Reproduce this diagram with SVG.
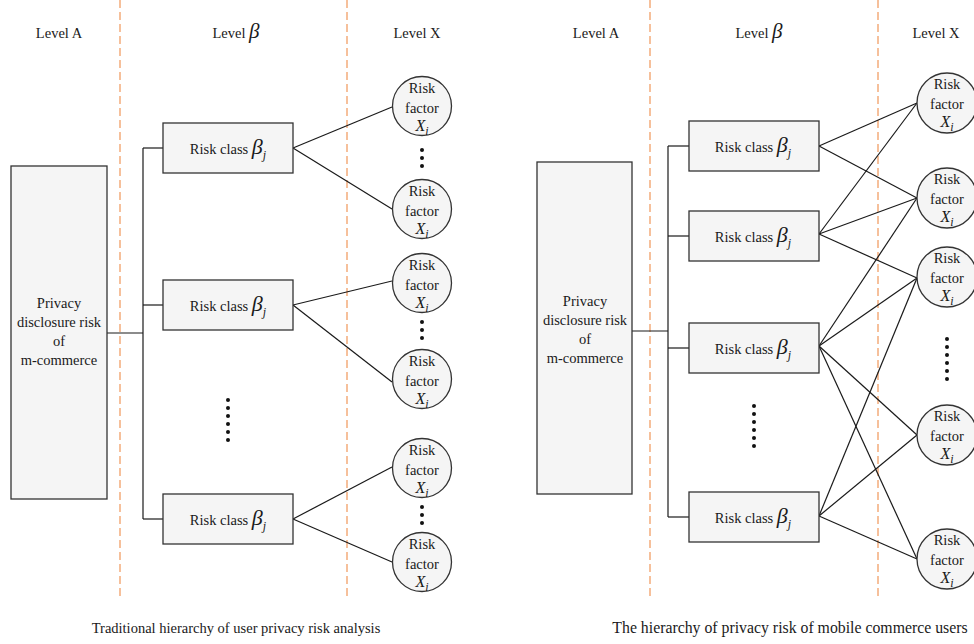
<svg xmlns="http://www.w3.org/2000/svg" width="974" height="644" viewBox="0 0 974 644">
<style>
text{font-family:"Liberation Serif","DejaVu Serif",serif;fill:#1a1a1a;font-size:14.5px;}
.lbl{text-anchor:middle;}
.it{font-style:italic;}
.beta{font-style:italic;font-size:22px;}
.sub{font-style:italic;font-size:12px;}
.cap2{font-size:15.8px;}
.guide{stroke:#F4B183;stroke-width:1.6;stroke-dasharray:8 4;fill:none;}
.box{fill:#f5f5f5;stroke:#333;stroke-width:1.3;}
.circ{fill:#f5f5f5;stroke:#333;stroke-width:1.3;}
.ln{stroke:#1a1a1a;stroke-width:1.2;fill:none;}
.dot{fill:#111;}
</style>
<defs>
<g id="dots3"><circle cx="0" cy="0" r="2" class="dot"/><circle cx="0" cy="8" r="2" class="dot"/><circle cx="0" cy="16" r="2" class="dot"/></g>
<g id="dots6"><circle cx="0" cy="0" r="2" class="dot"/><circle cx="0" cy="8" r="2" class="dot"/><circle cx="0" cy="16" r="2" class="dot"/><circle cx="0" cy="24" r="2" class="dot"/><circle cx="0" cy="32" r="2" class="dot"/><circle cx="0" cy="40" r="2" class="dot"/></g>
</defs>

<g id="guides">
<line class="guide" x1="120" y1="0" x2="120" y2="598"/>
<line class="guide" x1="347" y1="0" x2="347" y2="598"/>
<line class="guide" x1="650" y1="0" x2="650" y2="598"/>
<line class="guide" x1="878" y1="0" x2="878" y2="598"/>
</g>

<g id="level-labels">
<text class="lbl" x="59" y="38">Level A</text>
<text class="lbl" x="236" y="38">Level <tspan class="it" font-size="21">β</tspan></text>
<text class="lbl" x="417" y="38">Level X</text>
<text class="lbl" x="596" y="38">Level A</text>
<text class="lbl" x="759" y="38">Level <tspan class="it" font-size="21">β</tspan></text>
<text class="lbl" x="936" y="38">Level X</text>
</g>

<g id="connectors">
<!-- left diagram -->
<polyline class="ln" points="107,333 143,333"/>
<line class="ln" x1="143" y1="148" x2="143" y2="519"/>
<line class="ln" x1="143" y1="148" x2="163" y2="148"/>
<line class="ln" x1="143" y1="305" x2="163" y2="305"/>
<line class="ln" x1="143" y1="519" x2="163" y2="519"/>
<line class="ln" x1="293" y1="148" x2="392" y2="107"/>
<line class="ln" x1="293" y1="148" x2="392" y2="209"/>
<line class="ln" x1="293" y1="305" x2="392" y2="281"/>
<line class="ln" x1="293" y1="305" x2="392" y2="382"/>
<line class="ln" x1="293" y1="519" x2="392" y2="467"/>
<line class="ln" x1="293" y1="519" x2="392" y2="562"/>
<!-- right diagram -->
<line class="ln" x1="632" y1="331" x2="668" y2="331"/>
<line class="ln" x1="668" y1="146" x2="668" y2="517"/>
<line class="ln" x1="668" y1="146" x2="689" y2="146"/>
<line class="ln" x1="668" y1="236" x2="689" y2="236"/>
<line class="ln" x1="668" y1="348" x2="689" y2="348"/>
<line class="ln" x1="668" y1="517" x2="689" y2="517"/>
<line class="ln" x1="819" y1="146" x2="917" y2="103"/>
<line class="ln" x1="819" y1="146" x2="917" y2="198"/>
<line class="ln" x1="819" y1="234" x2="917" y2="103"/>
<line class="ln" x1="819" y1="234" x2="917" y2="198"/>
<line class="ln" x1="819" y1="234" x2="917" y2="278"/>
<line class="ln" x1="819" y1="346" x2="917" y2="198"/>
<line class="ln" x1="819" y1="346" x2="917" y2="278"/>
<line class="ln" x1="819" y1="346" x2="917" y2="435"/>
<line class="ln" x1="819" y1="346" x2="917" y2="559"/>
<line class="ln" x1="819" y1="516" x2="917" y2="278"/>
<line class="ln" x1="819" y1="516" x2="917" y2="435"/>
<line class="ln" x1="819" y1="516" x2="917" y2="559"/>
</g>

<!-- Left diagram nodes -->
<g id="L-root">
<rect class="box" x="11" y="166" width="96" height="333"/>
<text class="lbl" x="59" y="308">Privacy</text>
<text class="lbl" x="59" y="327">disclosure risk</text>
<text class="lbl" x="59" y="346">of</text>
<text class="lbl" x="59" y="365">m-commerce</text>
</g>
<g id="L-class1">
<rect class="box" x="163" y="123" width="130" height="50"/>
<text class="lbl" x="228" y="154">Risk class <tspan class="beta">β</tspan><tspan class="sub" dy="5">j</tspan></text>
</g>
<g id="L-class2">
<rect class="box" x="163" y="280" width="130" height="50"/>
<text class="lbl" x="228" y="311">Risk class <tspan class="beta">β</tspan><tspan class="sub" dy="5">j</tspan></text>
</g>
<g id="L-class3">
<rect class="box" x="163" y="494" width="130" height="50"/>
<text class="lbl" x="228" y="525">Risk class <tspan class="beta">β</tspan><tspan class="sub" dy="5">j</tspan></text>
</g>
<g id="L-vdots"><use href="#dots6" x="228" y="400"/></g>

<g id="L-f1">
<circle class="circ" cx="422" cy="106" r="29.5"/>
<text class="lbl" x="422" y="93">Risk</text><text class="lbl" x="422" y="113">factor</text>
<text class="lbl" x="422" y="131"><tspan class="it" font-size="16">X</tspan><tspan class="sub" dy="4">i</tspan></text>
</g>
<g id="L-f1dots"><use href="#dots3" x="422" y="150"/></g>
<g id="L-f2">
<circle class="circ" cx="422" cy="209" r="29.5"/>
<text class="lbl" x="422" y="196">Risk</text><text class="lbl" x="422" y="216">factor</text>
<text class="lbl" x="422" y="234"><tspan class="it" font-size="16">X</tspan><tspan class="sub" dy="4">i</tspan></text>
</g>
<g id="L-f3">
<circle class="circ" cx="422" cy="283" r="29.5"/>
<text class="lbl" x="422" y="270">Risk</text><text class="lbl" x="422" y="290">factor</text>
<text class="lbl" x="422" y="308"><tspan class="it" font-size="16">X</tspan><tspan class="sub" dy="4">i</tspan></text>
</g>
<g id="L-f3dots"><use href="#dots3" x="422" y="322"/></g>
<g id="L-f4">
<circle class="circ" cx="422" cy="379" r="29.5"/>
<text class="lbl" x="422" y="366">Risk</text><text class="lbl" x="422" y="386">factor</text>
<text class="lbl" x="422" y="404"><tspan class="it" font-size="16">X</tspan><tspan class="sub" dy="4">i</tspan></text>
</g>
<g id="L-f5">
<circle class="circ" cx="422" cy="468" r="29.5"/>
<text class="lbl" x="422" y="455">Risk</text><text class="lbl" x="422" y="475">factor</text>
<text class="lbl" x="422" y="493"><tspan class="it" font-size="16">X</tspan><tspan class="sub" dy="4">i</tspan></text>
</g>
<g id="L-f5dots"><use href="#dots3" x="422" y="507"/></g>
<g id="L-f6">
<circle class="circ" cx="422" cy="562" r="29.5"/>
<text class="lbl" x="422" y="549">Risk</text><text class="lbl" x="422" y="569">factor</text>
<text class="lbl" x="422" y="587"><tspan class="it" font-size="16">X</tspan><tspan class="sub" dy="4">i</tspan></text>
</g>

<!-- Right diagram nodes -->
<g id="R-root">
<rect class="box" x="537" y="162" width="95" height="332"/>
<text class="lbl" x="585" y="306">Privacy</text>
<text class="lbl" x="585" y="325">disclosure risk</text>
<text class="lbl" x="585" y="344">of</text>
<text class="lbl" x="585" y="363">m-commerce</text>
</g>
<g id="R-class1">
<rect class="box" x="689" y="121" width="130" height="50"/>
<text class="lbl" x="753" y="152">Risk class <tspan class="beta">β</tspan><tspan class="sub" dy="5">j</tspan></text>
</g>
<g id="R-class2">
<rect class="box" x="689" y="211" width="130" height="50"/>
<text class="lbl" x="753" y="242">Risk class <tspan class="beta">β</tspan><tspan class="sub" dy="5">j</tspan></text>
</g>
<g id="R-class3">
<rect class="box" x="689" y="323" width="130" height="50"/>
<text class="lbl" x="753" y="354">Risk class <tspan class="beta">β</tspan><tspan class="sub" dy="5">j</tspan></text>
</g>
<g id="R-class4">
<rect class="box" x="689" y="492" width="130" height="50"/>
<text class="lbl" x="753" y="523">Risk class <tspan class="beta">β</tspan><tspan class="sub" dy="5">j</tspan></text>
</g>
<g id="R-vdots"><use href="#dots6" x="754" y="406"/></g>

<g id="R-f1">
<circle class="circ" cx="947" cy="103" r="30"/>
<text class="lbl" x="947" y="89">Risk</text><text class="lbl" x="947" y="109">factor</text>
<text class="lbl" x="947" y="127"><tspan class="it" font-size="16">X</tspan><tspan class="sub" dy="4">i</tspan></text>
</g>
<g id="R-f2">
<circle class="circ" cx="947" cy="198" r="30"/>
<text class="lbl" x="947" y="184">Risk</text><text class="lbl" x="947" y="204">factor</text>
<text class="lbl" x="947" y="222"><tspan class="it" font-size="16">X</tspan><tspan class="sub" dy="4">i</tspan></text>
</g>
<g id="R-f3">
<circle class="circ" cx="947" cy="277" r="30"/>
<text class="lbl" x="947" y="263">Risk</text><text class="lbl" x="947" y="283">factor</text>
<text class="lbl" x="947" y="301"><tspan class="it" font-size="16">X</tspan><tspan class="sub" dy="4">i</tspan></text>
</g>
<g id="R-fdots"><use href="#dots6" x="947" y="339"/></g>
<g id="R-f4">
<circle class="circ" cx="947" cy="435" r="30"/>
<text class="lbl" x="947" y="421">Risk</text><text class="lbl" x="947" y="441">factor</text>
<text class="lbl" x="947" y="459"><tspan class="it" font-size="16">X</tspan><tspan class="sub" dy="4">i</tspan></text>
</g>
<g id="R-f5">
<circle class="circ" cx="947" cy="559" r="30"/>
<text class="lbl" x="947" y="545">Risk</text><text class="lbl" x="947" y="565">factor</text>
<text class="lbl" x="947" y="583"><tspan class="it" font-size="16">X</tspan><tspan class="sub" dy="4">i</tspan></text>
</g>

<g id="captions">
<text class="lbl" x="236" y="633">Traditional hierarchy of user privacy risk analysis</text>
<text class="lbl cap2" x="790" y="633">The hierarchy of privacy risk of mobile commerce users</text>
</g>
</svg>
